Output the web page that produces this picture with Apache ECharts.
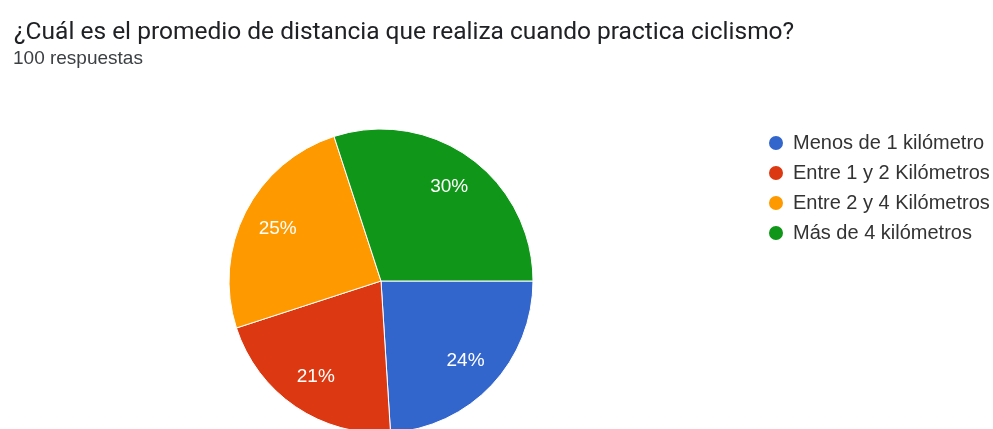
<!DOCTYPE html>
<html>
<head>
<meta charset="utf-8">
<script src="https://cdn.jsdelivr.net/npm/echarts@6/dist/echarts.min.js"></script>
<style>
html,body{margin:0;padding:0;background:#fff;}
#chart{width:993px;height:429px;}
</style>
</head>
<body>
<div id="chart"></div>
<script>
var titleText = '¿Cuál es el promedio de distancia que realiza cuando practica ciclismo?';
var subtitleText = '100 respuestas';
var categories = ['Menos de 1 kilómetro', 'Entre 1 y 2 Kilómetros', 'Entre 2 y 4 Kilómetros', 'Más de 4 kilómetros'];
var counts = [24, 21, 25, 30];
var colors = ['#3366cc', '#dc3912', '#ff9900', '#109618'];

var pieData = categories.map(function (c, i) { return { name: c, value: counts[i] }; });

var chart = echarts.init(document.getElementById('chart'), null, { renderer: 'canvas' });
chart.setOption({
  animation: false,
  color: colors,
  title: [
    { text: titleText, left: 9, top: 15, textStyle: { fontFamily: 'Roboto', fontSize: 24.5, fontWeight: 'normal', color: '#202124' } },
    { text: subtitleText, left: 8, top: 44, textStyle: { fontFamily: 'Liberation Sans', fontSize: 19, fontWeight: 'normal', color: '#3c4043' } }
  ],
  legend: {
    orient: 'vertical',
    left: 762,
    top: 128,
    icon: 'circle',
    itemWidth: 16,
    itemHeight: 16,
    itemGap: 10,
    selectedMode: false,
    data: categories,
    textStyle: { fontFamily: 'Liberation Sans', fontSize: 20, color: '#333333', padding: [0, 0, 0, 4] }
  },
  series: [
    {
      type: 'pie',
      center: [381, 281],
      radius: [0, 152],
      startAngle: 0,
      clockwise: true,
      silent: true,
      data: pieData,
      itemStyle: { borderColor: '#ffffff', borderWidth: 1 },
      label: { show: false },
      labelLine: { show: false }
    },
    {
      type: 'pie',
      center: [381, 281],
      radius: [0, 226],
      startAngle: 0,
      clockwise: true,
      silent: true,
      data: pieData,
      itemStyle: { color: 'rgba(0,0,0,0)', borderWidth: 0 },
      label: { show: true, position: 'inside', formatter: '{d}%', fontFamily: 'Liberation Sans', fontSize: 19, color: '#ffffff' },
      labelLine: { show: false },
      emphasis: { disabled: true }
    }
  ]
});
</script>
</body>
</html>
